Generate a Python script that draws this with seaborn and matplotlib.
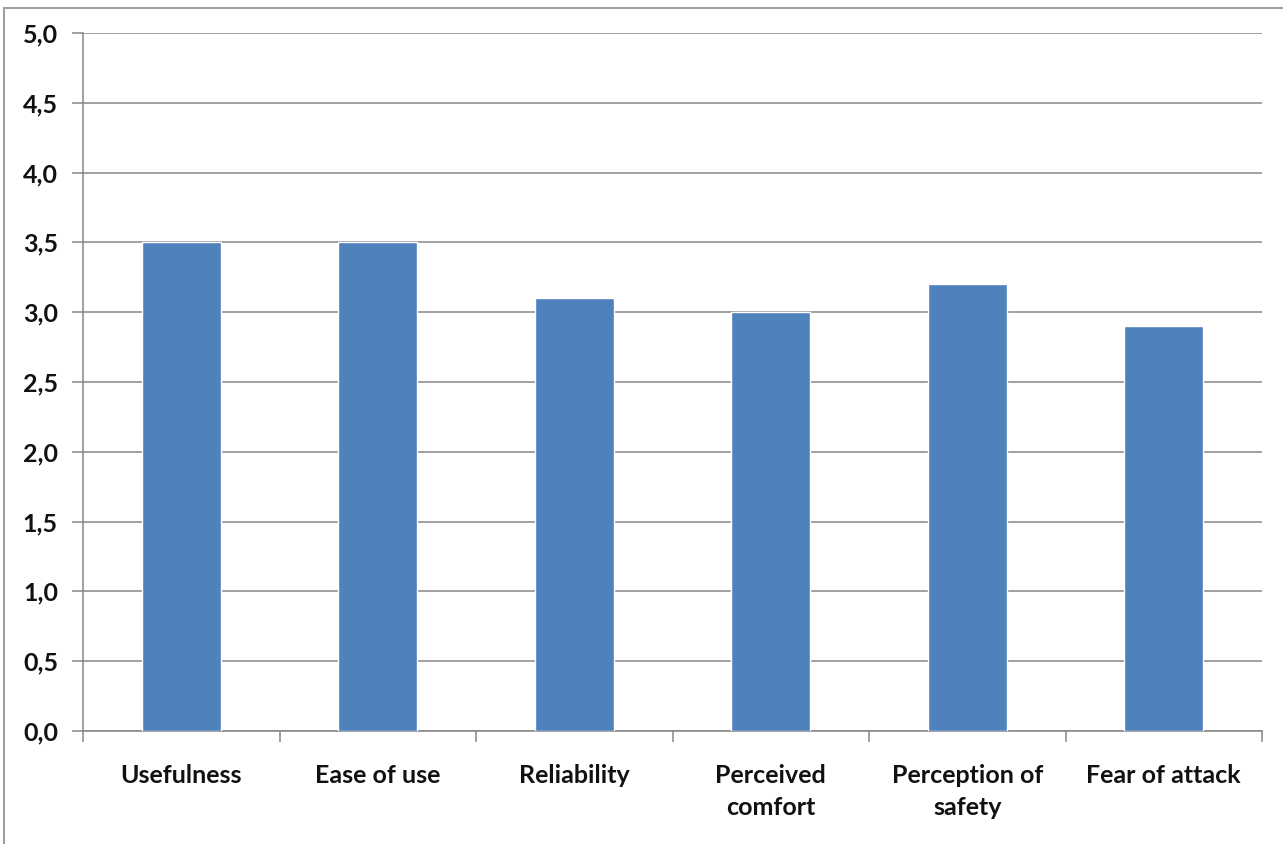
import matplotlib
matplotlib.use("Agg")
import matplotlib.pyplot as plt
import seaborn as sns
import pandas as pd
import numpy as np
from matplotlib.ticker import FuncFormatter, MultipleLocator, FixedLocator
from matplotlib.patches import Rectangle

categories = ["Usefulness", "Ease of use", "Reliability", "Perceived\ncomfort",
              "Perception of\nsafety", "Fear of attack"]
scores = [3.5, 3.5, 3.1, 3.0, 3.2, 2.9]

sns.set_theme(style="white")
plt.rcParams["font.family"] = ["Lato", "DejaVu Sans"]

df = pd.DataFrame({"factor": categories, "score": scores})

fig = plt.figure(figsize=(12.83, 8.44), dpi=100)
ax = fig.add_axes([83 / 1283, 1 - 731 / 844, (1262 - 83) / 1283, (731 - 33) / 844])

grid_col = "#868686"
sns.barplot(data=df, x="factor", y="score", color="#4F81BD", width=0.4,
            saturation=1, ax=ax, zorder=3)

ax.set_ylim(0, 5.0)
ax.set_xlim(-0.5, len(categories) - 0.5)
ax.yaxis.set_major_locator(MultipleLocator(0.5))
ax.yaxis.set_major_formatter(FuncFormatter(lambda v, p: f"{v:.1f}".replace(".", ",")))
ax.yaxis.grid(True, color=grid_col, linewidth=1.1, zorder=0)
ax.set_axisbelow(True)

for side in ("top", "right"):
    ax.spines[side].set_visible(False)
for side in ("left", "bottom"):
    ax.spines[side].set_color(grid_col)
    ax.spines[side].set_linewidth(1.1)

ax.set_xlabel("")
ax.set_ylabel("")

# category boundary tick marks
ax.xaxis.set_minor_locator(FixedLocator(np.arange(-0.5, len(categories), 1.0)))
ax.tick_params(axis="x", which="minor", bottom=True, length=8, color=grid_col, width=1.1)
ax.tick_params(axis="x", which="major", bottom=False, length=0, pad=24,
               labelsize=18)
ax.tick_params(axis="y", which="major", left=True, length=8, color=grid_col, width=1.1,
               pad=10, labelsize=18)
for lbl in ax.get_xticklabels() + ax.get_yticklabels():
    lbl.set_fontweight("bold")
    lbl.set_color("#111111")
for lbl in ax.get_xticklabels():
    lbl.set_linespacing(1.45)
    lbl.set_verticalalignment("top")

# chart area frame
fig.patches.append(Rectangle((4 / 1283, -0.05), 1.2, 1 - 8 / 844 + 0.05,
                             transform=fig.transFigure, fill=False,
                             edgecolor="#a0a0a0", linewidth=1.5))

fig.savefig("out.png", dpi=100, facecolor="white")
